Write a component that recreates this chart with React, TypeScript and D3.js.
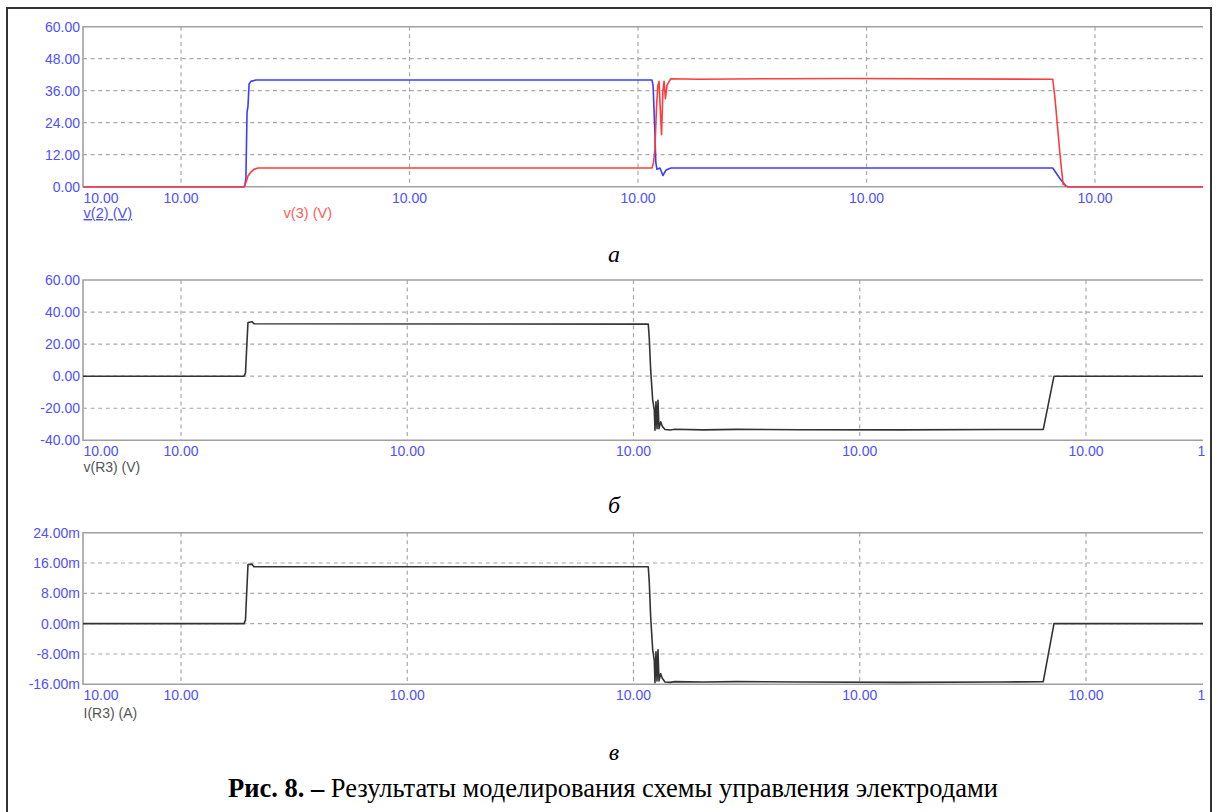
import React, { useEffect, useRef } from 'react';
import * as d3 from 'd3';

// time grid: every x label in the source reads "10.00"
const gridTimes = [1, 2, 3, 4, 5];
const timeTickLabel = '10.00';
const endTickLabel = '1'; // the last label is cut by the plot edge in the source

// panel a (time range is a bit shorter than b and c)
const aDomain = [0.5711, 5.4726];
const aTicks = [0, 12, 24, 36, 48, 60];

const v2Time = [0.571, 1.278, 1.284, 1.289, 1.293, 1.298, 1.306, 1.328, 3.061, 3.066, 3.074, 3.078, 3.083, 3.096, 3.109, 3.123, 3.144, 4.815, 4.847, 4.873, 4.882, 5.473];
const v2Values = [0, 0, 3, 28, 30, 38.5, 39.5, 40, 40, 38, 20, 9, 6.5, 7, 4.2, 6.3, 7, 7, 3, 0.3, 0, 0];

const v3Time = [0.571, 1.276, 1.284, 1.293, 1.306, 1.319, 1.337, 3.061, 3.068, 3.074, 3.081, 3.087, 3.092, 3.098, 3.103, 3.109, 3.114, 3.12, 3.127, 3.136, 3.144, 3.271, 3.621, 3.927, 4.815, 4.825, 4.847, 4.86, 4.878, 5.473];
const v3Values = [0, 0, 1.5, 4, 5.5, 6.5, 7, 7, 9, 14, 30, 38, 39.5, 28, 19.5, 36, 39.5, 33, 38, 39.5, 40.5, 40.3, 40.5, 40.6, 40.3, 33, 12, 1, 0, 0];

// panels b and c share the time points
const bcDomain = [0.5669, 5.5172];
const bTicks = [-40, -20, 0, 20, 40, 60];
const cTicks = [-16, -8, 0, 8, 16, 24];

const r3Time = [0.5669, 1.2785, 1.2851, 1.2895, 1.293, 1.2961, 1.3138, 1.3227, 3.0654, 3.0698, 3.076, 3.0849, 3.0919, 3.095, 3.0994, 3.1039, 3.1083, 3.1127, 3.1202, 3.1273, 3.1392, 3.1613, 3.1834, 3.3072, 3.4575, 3.7359, 4.1779, 4.62, 4.8112, 4.8586, 5.5172];
const vR3Values = [0, 0, 2, 15, 25, 33.5, 34, 32.7, 32.5, 23.6, 3.75, -15, -21, -33.75, -16, -32.7, -15, -32.7, -28.5, -31.3, -33.3, -33.6, -33.1, -33.5, -33.2, -33.4, -33.5, -33.3, -33.2, 0, 0];
// mA
const iR3Values = [0, 0, 1, 7, 11.5, 15.6, 15.7, 15, 15, 10.9, 1.7, -6.9, -9.7, -15.6, -7.4, -15.1, -6.9, -15.1, -13.2, -14.4, -15.4, -15.5, -15.3, -15.4, -15.3, -15.4, -15.5, -15.4, -15.3, 0, 0];

const BLUE = '#3c3cff';
const RED = '#ff3c3c';
const TRACE = '#333333';
const LABEL = '#5050ff';
const FRAME = '#a0a0a0';
const GRID = '#a8a8a8';
const SANS = '"Liberation Sans", Arial, sans-serif';
const SERIF = '"Liberation Serif", "Times New Roman", serif';

export default () => {
  const svgRef = useRef<SVGSVGElement>(null);

  useEffect(() => {
    if (!svgRef.current) return;
    document.body.style.margin = '0';
    const svg = d3.select(svgRef.current);
    svg.selectAll('*').remove();

    const left = 83;
    const right = 1203;

    const panels = [
      {
        id: 'a', top: 26.7, bottom: 186.7, xDomain: aDomain, ticks: aTicks,
        fmt: (d: number) => d.toFixed(2), endLabel: false,
        series: [
          { t: v2Time, v: v2Values, color: BLUE },
          { t: v3Time, v: v3Values, color: RED },
        ],
      },
      {
        id: 'b', top: 280, bottom: 440.3, xDomain: bcDomain, ticks: bTicks,
        fmt: (d: number) => d.toFixed(2), endLabel: true,
        series: [{ t: r3Time, v: vR3Values, color: TRACE }],
      },
      {
        id: 'c', top: 532.7, bottom: 684.3, xDomain: bcDomain, ticks: cTicks,
        fmt: (d: number) => d.toFixed(2) + 'm', endLabel: true,
        series: [{ t: r3Time, v: iR3Values, color: TRACE }],
      },
    ];

    const defs = svg.append('defs');

    panels.forEach(p => {
      const x = d3.scaleLinear().domain(p.xDomain).range([left, right]);
      const y = d3.scaleLinear()
        .domain([p.ticks[0], p.ticks[p.ticks.length - 1]])
        .range([p.bottom, p.top]);
      const g = svg.append('g');

      defs.append('clipPath').attr('id', 'plot-' + p.id)
        .append('rect')
        .attr('x', left).attr('y', p.top - 3)
        .attr('width', right - left).attr('height', p.bottom - p.top + 6);

      // grid
      g.selectAll('.hg')
        .data(p.ticks.slice(1, -1))
        .enter().append('line')
        .attr('x1', left).attr('x2', right)
        .attr('y1', d => y(d)).attr('y2', d => y(d))
        .attr('stroke', GRID).attr('stroke-width', 1.2)
        .attr('stroke-dasharray', '4,3.6');
      g.selectAll('.vg')
        .data(gridTimes)
        .enter().append('line')
        .attr('x1', d => x(d)).attr('x2', d => x(d))
        .attr('y1', p.top).attr('y2', p.bottom)
        .attr('stroke', GRID).attr('stroke-width', 1.2)
        .attr('stroke-dasharray', '4,3.6');

      // frame (top, left, bottom)
      g.append('path')
        .attr('d', `M${right},${p.top}H${left}V${p.bottom}H${right}`)
        .attr('fill', 'none').attr('stroke', FRAME).attr('stroke-width', 1.6);

      // traces
      const line = d3.line<[number, number]>()
        .x(d => x(d[0]))
        .y(d => y(d[1]));
      p.series.forEach(s => {
        const pts = s.t.map((t, i) => [t, s.v[i]] as [number, number]);
        g.append('path')
          .attr('d', line(pts) as string)
          .attr('fill', 'none')
          .attr('stroke', s.color)
          .attr('stroke-width', 1.6)
          .attr('stroke-linejoin', 'round')
          .attr('clip-path', `url(#plot-${p.id})`);
      });

      // y labels
      g.selectAll('.yl')
        .data(p.ticks)
        .enter().append('text')
        .attr('x', 80).attr('y', d => y(d))
        .attr('dy', '0.36em')
        .attr('text-anchor', 'end')
        .attr('font-family', SANS).attr('font-size', 14)
        .attr('fill', LABEL)
        .text(d => p.fmt(d));

      // x labels
      const xl = g.append('g')
        .attr('font-family', SANS).attr('font-size', 14)
        .attr('fill', LABEL);
      xl.append('text')
        .attr('x', left + 0.5).attr('y', p.bottom + 16)
        .text(timeTickLabel);
      xl.selectAll('.xt')
        .data(gridTimes)
        .enter().append('text')
        .attr('x', d => x(d)).attr('y', p.bottom + 16)
        .attr('text-anchor', 'middle')
        .text(timeTickLabel);
      if (p.endLabel) {
        xl.append('text')
          .attr('x', right - 5.5).attr('y', p.bottom + 16)
          .text(endTickLabel);
      }
    });

    // legends
    const legends = [
      { t: 'v(2) (V)', x: 83.5, y: 218, c: LABEL, u: true, s: 14.6 },
      { t: 'v(3) (V)', x: 283.5, y: 218, c: '#ff5c5c', u: false, s: 14.6 },
      { t: 'v(R3) (V)', x: 83.5, y: 472, c: '#555555', u: false, s: 14 },
      { t: 'I(R3) (A)', x: 83.5, y: 718, c: '#555555', u: false, s: 14 },
    ];
    svg.selectAll('.legend')
      .data(legends)
      .enter().append('text')
      .attr('x', d => d.x).attr('y', d => d.y)
      .attr('font-family', SANS).attr('font-size', d => d.s)
      .attr('fill', d => d.c)
      .attr('text-decoration', d => (d.u ? 'underline' : 'none'))
      .text(d => d.t);

    // sub-figure letters
    const letters = [
      { t: 'а', y: 262 },
      { t: 'б', y: 513 },
      { t: 'в', y: 760 },
    ];
    svg.selectAll('.letter')
      .data(letters)
      .enter().append('text')
      .attr('x', 614).attr('y', d => d.y)
      .attr('text-anchor', 'middle')
      .attr('font-family', SERIF).attr('font-size', 24)
      .attr('font-style', 'italic')
      .attr('fill', '#000')
      .text(d => d.t);

    // caption
    const cap = svg.append('text')
      .attr('x', 613).attr('y', 797)
      .attr('text-anchor', 'middle')
      .attr('font-family', SERIF).attr('font-size', 26.5)
      .attr('fill', '#000');
    cap.append('tspan').attr('font-weight', 'bold').text('Рис. 8. –');
    cap.append('tspan').text(' Результаты моделирования схемы управления электродами');

    // outer frame
    svg.append('rect')
      .attr('x', 7).attr('y', 8)
      .attr('width', 1204).attr('height', 830)
      .attr('fill', 'none').attr('stroke', '#333').attr('stroke-width', 2);
  }, []);

  return <svg ref={svgRef} width={1218} height={812} style={{ display: 'block', background: '#fff' }} />;
};
